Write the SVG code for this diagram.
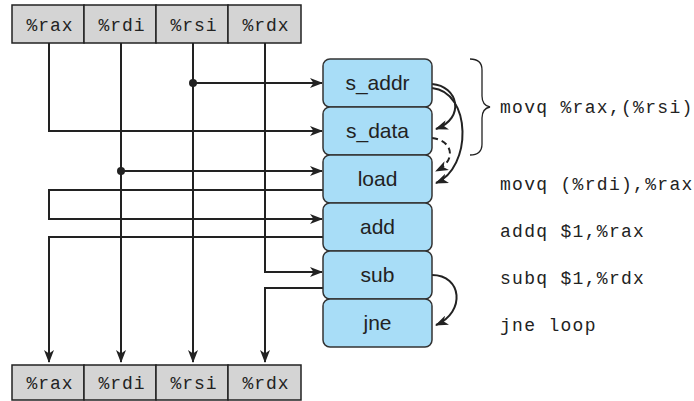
<svg xmlns="http://www.w3.org/2000/svg" width="694" height="401" viewBox="0 0 694 401">
<defs>
<style>
.reg{fill:#d4d4d4;stroke:#222;stroke-width:1.5}
.rt{font-family:"Liberation Mono","DejaVu Sans Mono",monospace;font-size:18px;fill:#222;text-anchor:middle;letter-spacing:1px}
.node{fill:#a8ddf7;stroke:#333;stroke-width:1.5}
.nt{font-family:"Liberation Sans",Arial,sans-serif;font-size:21px;fill:#222;text-anchor:middle}
.code{font-family:"Liberation Mono","DejaVu Sans Mono",monospace;font-size:18px;fill:#222;letter-spacing:1.3px}
.w{fill:none;stroke:#222;stroke-width:2}
.dash{stroke-dasharray:6 4}
</style>
<marker id="ah" viewBox="0 0 13 10" refX="12" refY="5" markerWidth="13" markerHeight="10" markerUnits="userSpaceOnUse" orient="auto">
<path d="M0,0 L13,5 L0,10 L3.5,5 z" fill="#222"/>
</marker>
</defs>
<rect width="694" height="401" fill="#fff"/>

<g id="connectors">
<path class="w" d="M193,43 V362" marker-end="url(#ah)"/>
<circle cx="193" cy="83" r="4" fill="#222"/>
<path class="w" d="M193,83 H322" marker-end="url(#ah)"/>
<path class="w" d="M121,43 V362" marker-end="url(#ah)"/>
<circle cx="121" cy="171" r="4" fill="#222"/>
<path class="w" d="M121,171 H322" marker-end="url(#ah)"/>
<path class="w" d="M49,43 V131 H322" marker-end="url(#ah)"/>
<path class="w" d="M323,190 H49 V219 H322" marker-end="url(#ah)"/>
<path class="w" d="M323,237 H49 V362" marker-end="url(#ah)"/>
<path class="w" d="M265,43 V272 H322" marker-end="url(#ah)"/>
<path class="w" d="M323,288 H265 V362" marker-end="url(#ah)"/>
<path class="w" d="M432,84 C458,86 466,118 436,129" marker-end="url(#ah)"/>
<path class="w" d="M432,88 C472,92 472,168 436,183" marker-end="url(#ah)"/>
<path class="w dash" d="M432,138 C452,140 458,160 436,171" marker-end="url(#ah)"/>
<path class="w" d="M432,275 C462,275 466,312 436,325" marker-end="url(#ah)"/>
</g>

<g id="regs-top">
<g id="top-rax"><rect class="reg" x="12" y="5" width="72" height="38"/><text class="rt" x="50" y="31">%rax</text></g>
<g id="top-rdi"><rect class="reg" x="84" y="5" width="72" height="38"/><text class="rt" x="122" y="31">%rdi</text></g>
<g id="top-rsi"><rect class="reg" x="156" y="5" width="72" height="38"/><text class="rt" x="194" y="31">%rsi</text></g>
<g id="top-rdx"><rect class="reg" x="228" y="5" width="73" height="38"/><text class="rt" x="266" y="31">%rdx</text></g>
</g>

<g id="regs-bottom">
<g id="bot-rax"><rect class="reg" x="12" y="365" width="72" height="35"/><text class="rt" x="50" y="389">%rax</text></g>
<g id="bot-rdi"><rect class="reg" x="84" y="365" width="72" height="35"/><text class="rt" x="122" y="389">%rdi</text></g>
<g id="bot-rsi"><rect class="reg" x="156" y="365" width="72" height="35"/><text class="rt" x="194" y="389">%rsi</text></g>
<g id="bot-rdx"><rect class="reg" x="228" y="365" width="73" height="35"/><text class="rt" x="266" y="389">%rdx</text></g>
</g>

<g id="s_addr"><rect class="node" x="323" y="59" width="109" height="48" rx="7"/><text class="nt" x="377.5" y="90">s_addr</text></g>
<g id="s_data"><rect class="node" x="323" y="107" width="109" height="48" rx="7"/><text class="nt" x="377.5" y="138">s_data</text></g>
<g id="load"><rect class="node" x="323" y="155" width="109" height="48" rx="7"/><text class="nt" x="377.5" y="186">load</text></g>
<g id="add"><rect class="node" x="323" y="203" width="109" height="48" rx="7"/><text class="nt" x="377.5" y="234">add</text></g>
<g id="sub"><rect class="node" x="323" y="251" width="109" height="48" rx="7"/><text class="nt" x="377.5" y="282">sub</text></g>
<g id="jne"><rect class="node" x="323" y="299" width="109" height="48" rx="7"/><text class="nt" x="377.5" y="330">jne</text></g>

<g id="brace">
<path d="M470,59 C478,59 482,62 482,70 V96 C482,103 485,106 490,107 C485,108 482,111 482,118 V144 C482,152 478,155 470,155" fill="none" stroke="#222" stroke-width="1.3"/>
</g>

<g id="code">
<text class="code" x="500" y="113">movq %rax,(%rsi)</text>
<text class="code" x="500" y="190">movq (%rdi),%rax</text>
<text class="code" x="500" y="237">addq $1,%rax</text>
<text class="code" x="500" y="284">subq $1,%rdx</text>
<text class="code" x="500" y="331">jne loop</text>
</g>
</svg>
